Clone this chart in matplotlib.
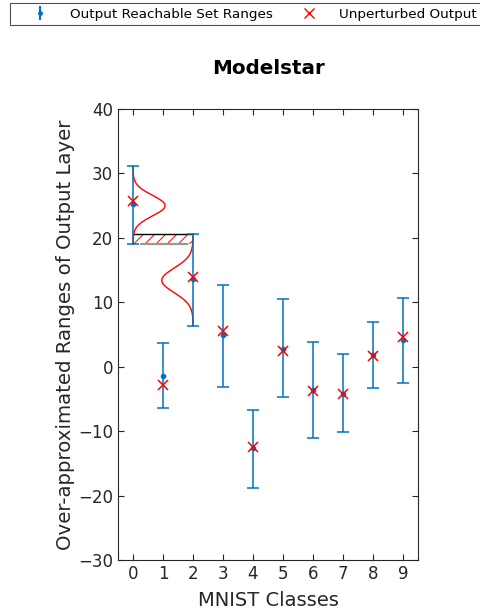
import numpy as np
import matplotlib
matplotlib.use("Agg")
import matplotlib.pyplot as plt
from matplotlib.patches import Rectangle
from matplotlib.lines import Line2D

classes = [0, 1, 2, 3, 4, 5, 6, 7, 8, 9]
upper = [31.1, 3.7, 20.6, 12.7, -6.7, 10.5, 3.8, 1.9, 6.9, 10.6]
lower = [19.0, -6.4, 6.3, -3.2, -18.8, -4.7, -11.1, -10.2, -3.3, -2.5]
center = [25.2, -1.4, 13.6, 4.9, -12.6, 2.7, -3.6, -4.3, 1.8, 4.1]
unperturbed = [25.7, -2.8, 14.0, 5.5, -12.5, 2.4, -3.8, -4.3, 1.6, 4.6]

# illustrative distribution curves (mean, sigma, amplitude) for classes 0 and 2
dist0 = dict(x=0, mu=25.0, sigma=1.6, amp=1.07, lo=19.0, hi=31.1, sign=1)
dist2 = dict(x=2, mu=13.4, sigma=1.9, amp=1.04, lo=6.3, hi=20.6, sign=-1)
hatch_box = dict(x0=0, x1=2, y0=19.0, y1=20.6)

plt.rcParams["hatch.linewidth"] = 0.7
blue = "#0072BD"
fig = plt.figure(figsize=(4.81, 6.16), dpi=100)
ax = fig.add_axes([118/481, 56/616, 300/481, 451/616])

ax.add_patch(Rectangle((hatch_box["x0"], hatch_box["y0"]),
                       hatch_box["x1"] - hatch_box["x0"],
                       hatch_box["y1"] - hatch_box["y0"],
                       facecolor="none", edgecolor="red", hatch="///",
                       linewidth=0, zorder=1))
ax.plot([hatch_box["x0"], hatch_box["x1"]], [hatch_box["y1"]] * 2,
        color="black", lw=1, zorder=2)
ax.plot([hatch_box["x0"] + 0.25, hatch_box["x1"] - 0.2], [hatch_box["y0"]] * 2,
        color="#999999", lw=1.6, zorder=2)

for d in (dist0, dist2):
    yy = np.linspace(d["lo"], d["hi"], 300)
    xx = d["x"] + d["sign"] * d["amp"] * np.exp(-(yy - d["mu"])**2 / (2 * d["sigma"]**2))
    ax.plot(xx, yy, color="red", lw=1, zorder=3)

c = np.array(center)
ax.errorbar(classes, c, yerr=[c - np.array(lower), np.array(upper) - c],
            fmt=".", color=blue, ecolor=blue, elinewidth=1.1, capsize=4.5,
            capthick=1.1, markersize=6, zorder=4)
ax.plot(classes, unperturbed, "x", color="red", markersize=7, mew=1.1, zorder=5)

ax.set_xlim(-0.5, 9.5)
ax.set_ylim(-30, 40)
ax.set_xticks(classes)
ax.set_yticks(range(-30, 41, 10))
for s in ax.spines.values():
    s.set_color("#262626")
    s.set_linewidth(0.8)
ax.tick_params(direction="in", top=True, right=True, labelsize=12,
               colors="#262626", length=4, width=0.8)
ax.set_xlabel("MNIST Classes", fontsize=14, color="#262626", labelpad=6)
ax.set_ylabel("Over-approximated Ranges of Output Layer", fontsize=14.2,
              color="#262626", labelpad=2)
ax.set_title("Modelstar", fontsize=14.3, fontweight="bold", pad=25)

h1 = ax.errorbar([], [], yerr=[], fmt=".", color=blue, capsize=3, markersize=5)
h2 = Line2D([], [], ls="none", marker="x", color="red", markersize=7)
leg = fig.legend([h1, h2], ["Output Reachable Set Ranges", "Unperturbed Output"],
                 loc="upper left", bbox_to_anchor=(10/481, 1 - 3/616), ncol=2,
                 fontsize=9.7, frameon=True, fancybox=False, borderaxespad=0,
                 handlelength=3.7, handletextpad=0.4, columnspacing=0.8,
                 borderpad=0.35)
leg.get_frame().set_edgecolor("#262626")
leg.get_frame().set_linewidth(0.8)

fig.savefig("out.png", dpi=100)
